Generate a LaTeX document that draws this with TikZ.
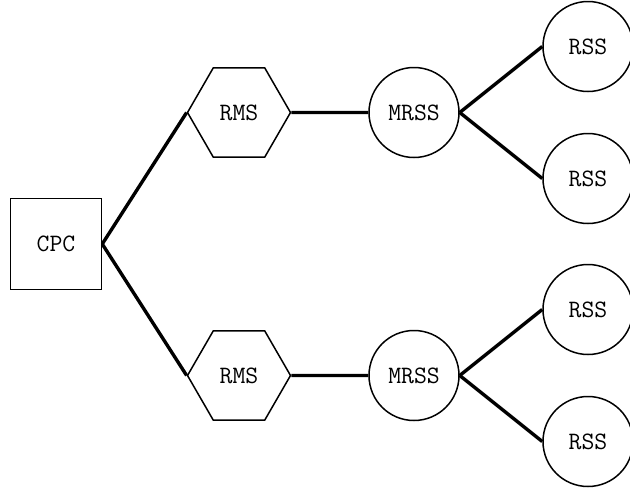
\documentclass[tikz,border=0pt]{standalone}
\usetikzlibrary{%
  positioning,
  shapes.geometric
}
\tikzset{
  box/.style = {draw, line width = 1.5pt, minimum size = 91pt, inner sep = 0},
  hexa/.style = {draw, line width = 1.5pt, regular polygon, regular polygon sides = 6,
    minimum size = 103pt, inner sep = 0},
  station/.style = {draw, line width = 1.5pt, circle, minimum size = 90pt, inner sep = 0},
  link/.style = {line width = 3.4pt}
}

\begin{document}
\begin{tikzpicture}[
      x = 1pt, y = -1pt,
      grow = right,
      font = \ttfamily\fontsize{25}{25}\selectfont,
      edge from parent/.style = {draw = none}
      ]
      \useasboundingbox (0,0) rectangle (630,491);
      \clip (0,0) rectangle (630,491);
      \node [box] (cpc) at (56,244) {CPC}
        [
        level 1/.style = {level distance = 183pt, sibling distance = 263pt},
        level 2/.style = {level distance = 175pt},
        level 3/.style = {level distance = 174pt, sibling distance = 132pt}
        ]
        child {node [hexa] (rmsa) {RMS}
          child {node [station] (mrssa) {MRSS}
            child {node [station] (rssa) {RSS}}
            child {node [station] (rssb) {RSS}}
          }
        }
        child {node [hexa] (rmsb) {RMS}
          child {node [station] (mrssb) {MRSS}
            child {node [station] (rssc) {RSS}}
            child {node [station] (rssd) {RSS}}
          }
        }
        ;
      \foreach \from/\to in {cpc/rmsa, cpc/rmsb, rmsa/mrssa, rmsb/mrssb,
          mrssa/rssa, mrssa/rssb, mrssb/rssc, mrssb/rssd}
        \draw [link] (\from.east) -- (\to.west);
    \end{tikzpicture}
\end{document}
